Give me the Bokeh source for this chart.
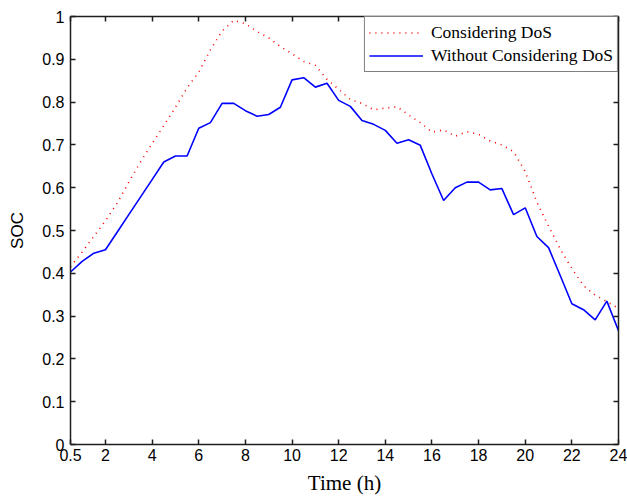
from bokeh.plotting import figure
from bokeh.models import LinearAxis, FixedTicker, Legend, LegendItem, Range1d
from bokeh.embed import file_html
from bokeh.resources import INLINE

hours = [0.5, 1.0, 1.5, 2.0, 2.5, 3.0, 3.5, 4.0, 4.5, 5.0, 5.5, 6.0,
         6.5, 7.0, 7.5, 8.0, 8.5, 9.0, 9.5, 10.0, 10.5, 11.0, 11.5, 12.0,
         12.5, 13.0, 13.5, 14.0, 14.5, 15.0, 15.5, 16.0, 16.5, 17.0, 17.5, 18.0,
         18.5, 19.0, 19.5, 20.0, 20.5, 21.0, 21.5, 22.0, 22.5, 23.0, 23.5, 24.0]

soc_dos = [0.415, 0.450, 0.486, 0.523, 0.564, 0.613, 0.660, 0.703, 0.745, 0.788, 0.833, 0.870,
           0.922, 0.966, 0.991, 0.983, 0.965, 0.950, 0.930, 0.913, 0.895, 0.886, 0.853, 0.830,
           0.806, 0.797, 0.782, 0.786, 0.789, 0.770, 0.752, 0.730, 0.735, 0.720, 0.731, 0.725,
           0.709, 0.700, 0.684, 0.638, 0.566, 0.510, 0.457, 0.411, 0.371, 0.349, 0.334, 0.318]

soc_no_dos = [0.403, 0.428, 0.447, 0.455, 0.496, 0.537, 0.578, 0.619, 0.660, 0.674, 0.674, 0.739,
              0.752, 0.797, 0.797, 0.780, 0.767, 0.771, 0.788, 0.852, 0.857, 0.835, 0.844, 0.804,
              0.790, 0.757, 0.748, 0.734, 0.704, 0.712, 0.699, 0.632, 0.570, 0.600, 0.613, 0.613,
              0.595, 0.598, 0.537, 0.553, 0.486, 0.460, 0.395, 0.329, 0.315, 0.291, 0.335, 0.266]

x_ticks = [0.5, 2, 4, 6, 8, 10, 12, 14, 16, 18, 20, 22, 24]
x_tick_labels = ["0.5", "2", "4", "6", "8", "10", "12", "14", "16", "18", "20", "22", "24"]
y_ticks = [0, 0.1, 0.2, 0.3, 0.4, 0.5, 0.6, 0.7, 0.8, 0.9, 1]
y_tick_labels = ["0", "0.1", "0.2", "0.3", "0.4", "0.5", "0.6", "0.7", "0.8", "0.9", "1"]

series_labels = ["Considering DoS", "Without Considering DoS"]

AXC = "#1e1e1e"
SANS = "Liberation Sans"
SERIF = "Liberation Serif"

p = figure(width=627, height=498, x_range=Range1d(0.5, 24), y_range=Range1d(0, 1),
           output_backend="svg", toolbar_location=None,
           min_border_left=70, min_border_right=9, min_border_top=16, min_border_bottom=54)
p.xgrid.visible = False
p.ygrid.visible = False
p.outline_line_color = None
p.background_fill_color = "white"
p.border_fill_color = "white"


def style_axis(ax, ticks, labels, show_labels=True):
    ax.ticker = FixedTicker(ticks=ticks)
    ax.axis_line_color = AXC
    ax.axis_line_width = 1.5
    ax.major_tick_line_color = AXC
    ax.major_tick_line_width = 1.5
    ax.major_tick_in = 5
    ax.major_tick_out = 0
    ax.minor_tick_line_color = None
    if show_labels:
        ax.major_label_overrides = {t: l for t, l in zip(ticks, labels)}
        ax.major_label_text_font = SANS
        ax.major_label_text_font_size = "16px"
        ax.major_label_text_color = "black"
    else:
        ax.major_label_text_font_size = "0px"
        ax.major_label_standoff = 0
        ax.major_label_text_color = None


style_axis(p.xaxis[0], x_ticks, x_tick_labels)
style_axis(p.yaxis[0], y_ticks, y_tick_labels)
p.xaxis[0].major_label_standoff = 4
p.yaxis[0].major_label_standoff = 6

p.xaxis[0].axis_label = "Time (h)"
p.xaxis[0].axis_label_text_font = SERIF
p.xaxis[0].axis_label_text_font_size = "21px"
p.xaxis[0].axis_label_text_font_style = "normal"
p.xaxis[0].axis_label_text_color = "black"
p.xaxis[0].axis_label_standoff = 7

p.yaxis[0].axis_label = "SOC"
p.yaxis[0].axis_label_text_font = SANS
p.yaxis[0].axis_label_text_font_size = "17px"
p.yaxis[0].axis_label_text_font_style = "normal"
p.yaxis[0].axis_label_text_color = "black"
p.yaxis[0].axis_label_standoff = 12

top_ax = LinearAxis()
style_axis(top_ax, x_ticks, x_tick_labels, show_labels=False)
p.add_layout(top_ax, "above")
right_ax = LinearAxis()
style_axis(right_ax, y_ticks, y_tick_labels, show_labels=False)
p.add_layout(right_ax, "right")

r1 = p.line(hours, soc_dos, line_color="#ff0000", line_width=1.6, line_dash="1 5")
r2 = p.line(hours, soc_no_dos, line_color="#0000ff", line_width=1.6)

legend = Legend(items=[LegendItem(label=series_labels[0], renderers=[r1]),
                       LegendItem(label=series_labels[1], renderers=[r2])],
                location="top_right", margin=0, padding=4, spacing=0,
                glyph_width=54, glyph_height=23, label_height=23, label_standoff=8,
                label_text_font=SERIF, label_text_font_size="17.5px",
                label_text_color="black",
                border_line_color="black", border_line_width=1.2,
                background_fill_color="white", background_fill_alpha=1.0)
p.add_layout(legend)

open("out.html", "w").write(file_html(p, INLINE))
